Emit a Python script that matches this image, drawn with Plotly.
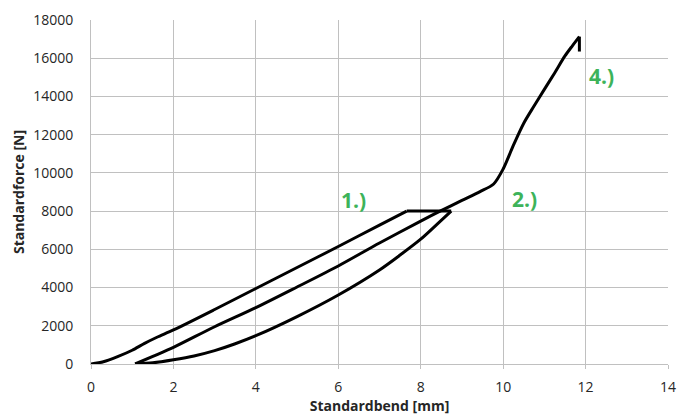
import plotly.graph_objects as go

# Load 1 (upper curve)
load1_x = [0, 0.3, 0.66, 1.0, 1.3, 1.6, 2, 3, 4, 5, 6, 7, 7.66]
load1_y = [0, 120, 400, 720, 1080, 1400, 1780, 2850, 3950, 5050, 6150, 7265, 8000]
# Hold at 8000 N
hold_x = [7.66, 8.74]
hold_y = [8000, 8000]
# Unload (lower curve)
unload_x = [8.74, 8.4, 8, 7.5, 7, 6, 5, 4, 3.5, 3, 2.5, 2, 1.5, 1.07]
unload_y = [8000, 7320, 6530, 5700, 4920, 3610, 2480, 1480, 1060, 700, 420, 220, 60, 0]
# Reload to failure (middle curve + steep part)
reload_x = [1.07, 1.5, 2, 3, 4, 5, 6, 7, 8, 8.47, 9, 9.44, 9.77, 10, 10.25, 10.5, 10.75, 11, 11.25, 11.5, 11.68, 11.85]
reload_y = [0, 400, 870, 1950, 2950, 4030, 5130, 6330, 7480, 8000, 8560, 9020, 9420, 10200, 11450, 12600, 13500, 14370, 15230, 16120, 16650, 17130]
# Final drop at break
drop_x = [11.85, 11.85]
drop_y = [17130, 16350]

labels = ["1.)", "2.)", "3.)", "4.)"]
label_x = [6.36, 10.52, 1.09, 12.38]
label_y = [8600, 8640, -1675, 15050]

fig = go.Figure()
for x, y, shape in [(load1_x, load1_y, "spline"), (hold_x, hold_y, "linear"),
                    (unload_x, unload_y, "spline"), (reload_x, reload_y, "spline"),
                    (drop_x, drop_y, "linear")]:
    fig.add_trace(go.Scatter(x=x, y=y, mode="lines",
                             line=dict(color="black", width=3, shape=shape, smoothing=0.8),
                             showlegend=False, cliponaxis=False, hoverinfo="skip"))

for t, x, y in zip(labels, label_x, label_y):
    fig.add_annotation(x=x, y=y, text="<b>" + t + "</b>", showarrow=False,
                       font=dict(family="Open Sans", size=21, color="#3db35a"))

fig.update_layout(
    width=679, height=418,
    margin=dict(l=91, r=11, t=20, b=54, autoexpand=False),
    paper_bgcolor="white", plot_bgcolor="white",
    font=dict(family="Open Sans", size=14, color="#262626"),
    xaxis=dict(range=[0, 14], tickmode="linear", tick0=0, dtick=2,
               showgrid=True, gridcolor="#c0c0c0", gridwidth=1,
               zeroline=False, showline=True, linecolor="#c0c0c0", linewidth=1,
               ticks="outside", ticklen=4, tickcolor="#c0c0c0",
               ticklabelstandoff=6, automargin=False,
               title=dict(text="<b>Standardbend [mm]</b>", font=dict(size=14), standoff=5)),
    yaxis=dict(range=[0, 18000], tickmode="linear", tick0=0, dtick=2000,
               tickformat="d",
               showgrid=True, gridcolor="#c0c0c0", gridwidth=1,
               zeroline=False, showline=True, linecolor="#c0c0c0", linewidth=1,
               ticks="", ticklabelstandoff=14, automargin=False,
               title=dict(text="<b>Standardforce [N]</b>", font=dict(size=14), standoff=5)),
)

fig.write_html("out.html", config={"displayModeBar": False},
               post_script="document.body.style.margin='0';")
